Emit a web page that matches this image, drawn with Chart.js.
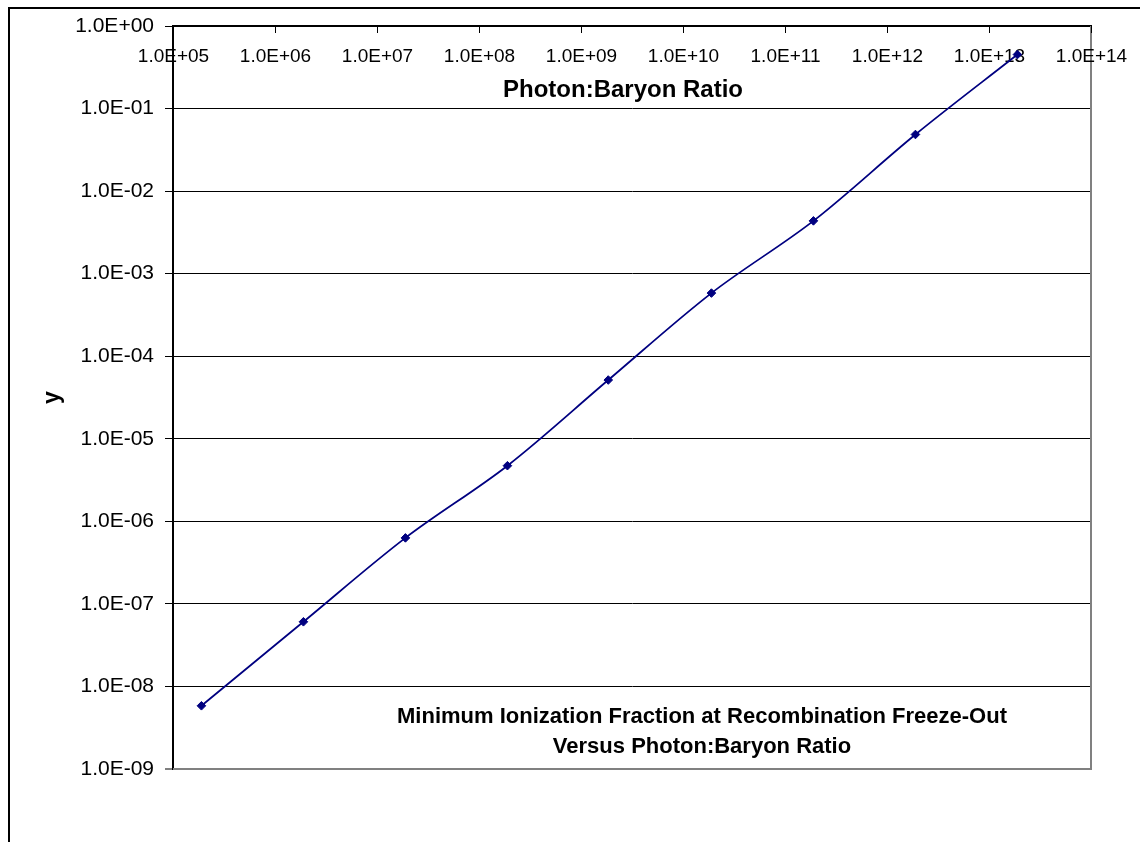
<!DOCTYPE html>
<html>
<head>
<meta charset="utf-8">
<title>Minimum Ionization Fraction at Recombination Freeze-Out</title>
<script src="https://cdn.jsdelivr.net/npm/chart.js@4.4.1/dist/chart.umd.min.js"></script>
<style>
  html, body { margin: 0; padding: 0; background: #fff; }
  #wrap { position: absolute; left: 0; top: 0; width: 1140px; height: 842px; }
</style>
</head>
<body>
<div id="wrap"><canvas id="chart" width="1140" height="842"></canvas></div>
<script>
// Photon:baryon ratio (x) and minimum ionization fraction y at freeze-out
const photonBaryonRatio = [1.9e5, 1.9e6, 1.9e7, 1.9e8, 1.85e9, 1.9e10, 1.9e11, 1.9e12, 1.9e13];
const ionizationFraction = [5.83e-9, 6.07e-8, 6.30e-7, 4.72e-6, 5.15e-5, 5.82e-4, 4.36e-3, 4.85e-2, 0.451];

// Axis ticks (decades) and their labels
const xTickValues = [1e5, 1e6, 1e7, 1e8, 1e9, 1e10, 1e11, 1e12, 1e13, 1e14];
const xTickLabels = ['1.0E+05', '1.0E+06', '1.0E+07', '1.0E+08', '1.0E+09', '1.0E+10', '1.0E+11', '1.0E+12', '1.0E+13', '1.0E+14'];
const yTickValues = [1e-9, 1e-8, 1e-7, 1e-6, 1e-5, 1e-4, 1e-3, 1e-2, 1e-1, 1];
const yTickLabels = ['1.0E-09', '1.0E-08', '1.0E-07', '1.0E-06', '1.0E-05', '1.0E-04', '1.0E-03', '1.0E-02', '1.0E-01', '1.0E+00'];

// Text
const titleLines = ['Minimum Ionization Fraction at Recombination Freeze-Out', 'Versus Photon:Baryon Ratio'];
const xAxisTitle = 'Photon:Baryon Ratio';
const yAxisTitle = 'y';

const FONT = '"Liberation Sans", Arial, Helvetica, sans-serif';
const NAVY = '#000080';

// Frame, x-axis ticks/labels and in-plot titles (Excel-style layout)
const excelFrame = {
  id: 'excelFrame',
  beforeDraw(chart) {
    const ctx = chart.ctx;
    ctx.save();
    ctx.fillStyle = '#fff';
    ctx.fillRect(0, 0, chart.width, chart.height);
    // outer chart border
    ctx.strokeStyle = '#000';
    ctx.lineWidth = 2;
    ctx.beginPath();
    ctx.moveTo(9, chart.height + 10);
    ctx.lineTo(9, 8);
    ctx.lineTo(chart.width + 10, 8);
    ctx.stroke();
    ctx.restore();
  },
  beforeDatasetsDraw(chart) {
    const ctx = chart.ctx;
    const area = chart.chartArea;
    const xs = chart.scales.x;
    ctx.save();
    // grey plot-area border on right and bottom
    ctx.strokeStyle = '#808080';
    ctx.lineWidth = 2;
    ctx.beginPath();
    ctx.moveTo(area.right, area.top);
    ctx.lineTo(area.right, area.bottom);
    ctx.lineTo(area.left, area.bottom);
    ctx.stroke();

    // x-axis tick marks (pointing into the plot) and labels
    ctx.strokeStyle = '#000';
    ctx.lineWidth = 1;
    ctx.fillStyle = '#000';
    ctx.font = '19px ' + FONT;
    ctx.textAlign = 'center';
    ctx.textBaseline = 'alphabetic';
    xTickValues.forEach((v, i) => {
      const px = Math.round(xs.getPixelForValue(v)) + 0.5;
      ctx.beginPath();
      ctx.moveTo(px, area.top);
      ctx.lineTo(px, area.top + 7);
      ctx.stroke();
      ctx.fillText(xTickLabels[i], px, area.top + 36);
    });

    // x-axis title
    ctx.font = 'bold 24px ' + FONT;
    ctx.fillText(xAxisTitle, 623, 97);

    // chart title inside the plot area
    ctx.font = 'bold 22px ' + FONT;
    ctx.fillText(titleLines[0], 702, 723);
    ctx.fillText(titleLines[1], 702, 753);
    ctx.restore();
  }
};

const points = photonBaryonRatio.map((x, i) => ({ x: x, y: ionizationFraction[i] }));

new Chart(document.getElementById('chart'), {
  type: 'line',
  data: {
    datasets: [{
      data: points,
      borderColor: NAVY,
      backgroundColor: NAVY,
      borderWidth: 1.75,
      tension: 0.33,
      pointStyle: 'rectRot',
      pointRadius: 4.3,
      pointBorderWidth: 1,
      pointBackgroundColor: NAVY,
      pointBorderColor: NAVY,
      fill: false
    }]
  },
  options: {
    responsive: false,
    animation: false,
    events: [],
    layout: { padding: { left: 10, top: 10, right: 49, bottom: 73 } },
    plugins: {
      legend: { display: false },
      tooltip: { enabled: false },
      title: { display: false }
    },
    scales: {
      x: {
        type: 'logarithmic',
        position: 'top',
        min: 1e5,
        max: 1e14,
        ticks: { display: false },
        grid: { display: false },
        border: { display: true, color: '#000', width: 2 },
        afterFit(scale) { scale.height = 16; }
      },
      y: {
        type: 'logarithmic',
        position: 'left',
        min: 1e-9,
        max: 1,
        afterBuildTicks(scale) {
          scale.ticks = yTickValues.map(v => ({ value: v }));
        },
        afterFit(scale) { scale.width = 163; },
        ticks: {
          autoSkip: false,
          color: '#000',
          padding: 11,
          font: { family: FONT, size: 21 },
          callback: (value) => yTickLabels[yTickValues.indexOf(value)]
        },
        grid: {
          drawTicks: true,
          tickLength: 8,
          tickColor: '#000',
          tickWidth: 1,
          color: (c) => (c.tick && c.tick.value === 1e-9) ? '#808080' : '#000',
          lineWidth: (c) => (c.tick && c.tick.value === 1e-9) ? 2 : 1
        },
        border: { display: true, color: '#000', width: 2 },
        title: {
          display: true,
          text: yAxisTitle,
          color: '#000',
          font: { family: FONT, size: 23, weight: 'bold' },
          padding: { top: 29, bottom: 0 }
        }
      }
    }
  },
  plugins: [excelFrame]
});
</script>
</body>
</html>
